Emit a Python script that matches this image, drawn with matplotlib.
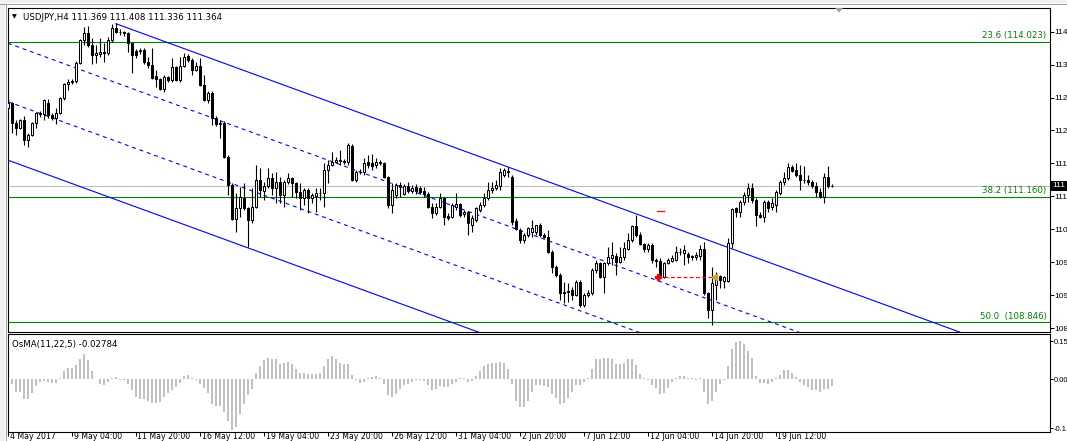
import numpy as np
import matplotlib
matplotlib.use("Agg")
import matplotlib.pyplot as plt
from matplotlib.patches import Rectangle, Polygon
from matplotlib.transforms import blended_transform_factory

# ---------------- data (USDJPY H4, bar 0 = 4 May 2017 12:00) ----------------
opens = [
    112.80, 112.90, 112.53, 112.44, 112.58, 112.21, 112.31, 112.53, 112.71, 112.70,
    112.90, 112.68, 112.62, 112.71, 112.99, 113.25, 113.29, 113.31, 113.64, 114.06,
    114.19, 113.97, 113.79, 113.80, 113.84, 113.82, 114.06, 114.28, 114.21, 114.20,
    114.19, 114.00, 113.85, 113.85, 113.87, 113.66, 113.60, 113.40, 113.34, 113.16,
    113.38, 113.32, 113.56, 113.32, 113.58, 113.77, 113.69, 113.51, 113.58, 113.23,
    112.95, 113.08, 112.62, 112.51, 112.53, 111.90, 111.38, 110.76, 110.95, 111.14,
    110.95, 110.74, 110.97, 111.47, 111.27, 111.36, 111.51, 111.33, 111.44, 111.20,
    111.44, 111.51, 111.42, 111.25, 111.14, 111.29, 111.14, 111.17, 111.23, 111.24,
    111.66, 111.75, 111.81, 111.84, 111.83, 111.81, 112.10, 111.47, 111.62, 111.62,
    111.81, 111.79, 111.75, 111.81, 111.79, 111.53, 111.01, 111.20, 111.38, 111.22,
    111.36, 111.27, 111.34, 111.32, 111.27, 111.22, 110.97, 110.86, 110.97, 111.14,
    110.81, 110.79, 110.98, 111.03, 110.84, 110.88, 110.64, 110.74, 110.92, 111.01,
    111.14, 111.29, 111.33, 111.36, 111.57, 111.64, 111.53, 110.72, 110.55, 110.37,
    110.46, 110.51, 110.51, 110.64, 110.46, 110.42, 110.14, 109.87, 109.72, 109.38,
    109.40, 109.44, 109.35, 109.59, 109.16, 109.35, 109.38, 109.81, 109.94, 109.68,
    109.94, 110.03, 110.07, 109.96, 110.05, 110.20, 110.37, 110.62, 110.46, 110.29,
    110.20, 110.27, 110.00, 109.97, 109.68, 109.94, 109.98, 110.00, 110.14, 110.12,
    110.10, 110.05, 110.05, 110.07, 110.20, 109.38, 109.07, 109.53, 109.70, 109.61,
    109.61, 110.31, 110.95, 110.88, 111.07, 111.20, 111.33, 111.10, 110.83, 110.79,
    111.07, 110.97, 111.01, 111.23, 111.44, 111.51, 111.71, 111.66, 111.57, 111.47,
    111.48, 111.44, 111.36, 111.25, 111.16, 111.53, 111.369,
]
highs = [
    113.03, 112.92, 112.58, 112.60, 112.66, 112.34, 112.55, 112.73, 112.75, 112.97,
    112.97, 112.71, 112.80, 113.01, 113.27, 113.34, 113.34, 113.67, 114.08, 114.30,
    114.32, 114.10, 113.97, 114.10, 114.01, 114.12, 114.36, 114.37, 114.27, 114.23,
    114.21, 114.01, 113.89, 113.91, 113.92, 113.75, 113.91, 113.51, 113.36, 113.41,
    113.40, 113.73, 113.58, 113.75, 113.82, 113.80, 113.73, 113.65, 113.73, 113.41,
    113.12, 113.12, 112.66, 112.58, 112.56, 111.94, 111.42, 111.23, 111.34, 111.42,
    110.97, 111.32, 111.75, 111.70, 111.44, 111.70, 111.60, 111.62, 111.53, 111.47,
    111.60, 111.53, 111.44, 111.42, 111.32, 111.32, 111.23, 111.32, 111.32, 111.79,
    111.84, 111.99, 111.90, 112.03, 111.86, 112.16, 112.14, 111.66, 111.68, 111.88,
    111.94, 111.95, 111.88, 111.84, 111.80, 111.55, 111.42, 111.42, 111.44, 111.40,
    111.44, 111.38, 111.40, 111.36, 111.34, 111.25, 111.05, 111.05, 111.23, 111.16,
    110.86, 111.05, 111.23, 111.05, 110.92, 110.90, 110.83, 110.97, 111.07, 111.23,
    111.44, 111.44, 111.47, 111.70, 111.70, 111.72, 111.57, 110.77, 110.58, 110.49,
    110.60, 110.74, 110.65, 110.68, 110.49, 110.55, 110.18, 109.90, 109.76, 109.59,
    109.57, 109.50, 109.63, 109.63, 109.38, 109.44, 109.85, 110.00, 109.96, 109.96,
    110.24, 110.33, 110.12, 110.24, 110.33, 110.49, 110.64, 110.83, 110.51, 110.31,
    110.31, 110.31, 110.03, 110.03, 109.96, 110.03, 110.09, 110.25, 110.22, 110.27,
    110.14, 110.09, 110.14, 110.27, 110.33, 109.40, 109.87, 109.77, 109.72, 109.70,
    110.40, 110.95, 110.97, 111.10, 111.25, 111.42, 111.42, 111.14, 110.88, 111.10,
    111.10, 111.14, 111.29, 111.47, 111.62, 111.79, 111.75, 111.79, 111.75, 111.73,
    111.57, 111.47, 111.44, 111.32, 111.60, 111.73, 111.408,
]
lows = [
    112.79, 112.34, 112.31, 112.42, 112.12, 112.08, 112.29, 112.44, 112.64, 112.58,
    112.62, 112.58, 112.51, 112.69, 112.96, 113.14, 113.24, 113.27, 113.62, 113.97,
    113.93, 113.62, 113.64, 113.75, 113.66, 113.79, 114.03, 114.19, 114.15, 114.14,
    113.84, 113.45, 113.72, 113.80, 113.62, 113.55, 113.34, 113.19, 113.14, 113.10,
    113.29, 113.29, 113.30, 113.29, 113.56, 113.66, 113.41, 113.49, 113.21, 112.94,
    112.90, 112.49, 112.47, 112.25, 111.88, 111.20, 110.73, 110.51, 110.79, 110.92,
    110.24, 110.68, 110.95, 111.16, 111.10, 111.33, 111.20, 111.05, 111.05, 110.97,
    111.40, 111.16, 111.14, 110.92, 111.01, 110.86, 111.05, 110.88, 111.10, 110.97,
    111.42, 111.73, 111.79, 111.75, 111.77, 111.75, 111.45, 111.44, 111.58, 111.57,
    111.70, 111.66, 111.70, 111.75, 111.52, 110.95, 110.86, 111.14, 111.16, 111.19,
    111.23, 111.23, 111.22, 111.21, 111.16, 110.95, 110.77, 110.83, 110.95, 110.64,
    110.74, 110.77, 110.92, 110.79, 110.79, 110.46, 110.51, 110.70, 110.88, 110.97,
    111.10, 111.23, 111.29, 111.29, 111.53, 111.53, 110.64, 110.55, 110.31, 110.31,
    110.42, 110.42, 110.46, 110.42, 110.40, 110.12, 109.76, 109.68, 109.26, 109.20,
    109.22, 109.26, 109.33, 109.12, 109.12, 109.31, 109.35, 109.76, 109.66, 109.38,
    109.90, 109.90, 109.72, 109.94, 110.00, 110.18, 110.33, 110.42, 110.27, 110.14,
    110.14, 109.94, 109.87, 109.66, 109.66, 109.92, 109.96, 109.98, 110.09, 109.90,
    109.94, 110.00, 110.00, 110.00, 109.35, 108.92, 108.80, 109.26, 109.48, 109.48,
    109.59, 110.22, 110.79, 110.79, 111.01, 111.07, 111.05, 110.62, 110.77, 110.70,
    110.88, 110.92, 110.88, 111.20, 111.38, 111.47, 111.62, 111.53, 111.29, 111.42,
    111.38, 111.33, 111.16, 111.14, 111.05, 111.33, 111.336,
]
closes = [
    112.90, 112.53, 112.44, 112.58, 112.21, 112.31, 112.53, 112.71, 112.70, 112.95,
    112.68, 112.62, 112.71, 112.99, 113.25, 113.29, 113.31, 113.64, 114.06, 114.19,
    113.97, 113.79, 113.82, 113.84, 113.82, 114.06, 114.28, 114.21, 114.20, 114.19,
    114.00, 113.79, 113.78, 113.87, 113.66, 113.60, 113.36, 113.34, 113.16, 113.38,
    113.32, 113.56, 113.32, 113.58, 113.75, 113.69, 113.51, 113.58, 113.23, 112.95,
    113.08, 112.62, 112.51, 112.53, 111.90, 111.38, 110.76, 110.95, 111.16, 110.95,
    110.74, 110.97, 111.47, 111.29, 111.36, 111.51, 111.33, 111.44, 111.20, 111.44,
    111.51, 111.42, 111.25, 111.14, 111.29, 111.14, 111.19, 111.23, 111.24, 111.66,
    111.75, 111.81, 111.84, 111.83, 111.81, 112.12, 111.47, 111.62, 111.63, 111.79,
    111.75, 111.73, 111.81, 111.79, 111.53, 111.01, 111.29, 111.38, 111.34, 111.36,
    111.27, 111.32, 111.27, 111.25, 111.22, 110.97, 110.86, 110.97, 111.14, 110.79,
    110.77, 111.01, 111.04, 110.83, 110.88, 110.68, 110.77, 110.95, 111.01, 111.14,
    111.29, 111.33, 111.38, 111.62, 111.66, 111.62, 110.70, 110.57, 110.37, 110.46,
    110.58, 110.58, 110.64, 110.46, 110.43, 110.14, 109.87, 109.72, 109.38, 109.40,
    109.42, 109.35, 109.59, 109.16, 109.35, 109.38, 109.81, 109.94, 109.68, 109.94,
    110.05, 110.09, 109.96, 110.05, 110.22, 110.37, 110.62, 110.46, 110.29, 110.20,
    110.27, 110.00, 109.97, 109.68, 109.94, 110.00, 110.03, 110.14, 110.15, 110.18,
    110.05, 110.07, 110.09, 110.20, 109.38, 109.07, 109.57, 109.68, 109.63, 109.68,
    110.31, 110.94, 110.88, 111.07, 111.20, 111.33, 111.10, 110.83, 110.79, 111.07,
    110.95, 111.05, 111.25, 111.44, 111.51, 111.71, 111.64, 111.57, 111.47, 111.48,
    111.44, 111.36, 111.25, 111.16, 111.53, 111.36, 111.364,
]
osma = [
    0.020, -0.020, -0.050, -0.050, -0.080, -0.080, -0.057, -0.027, -0.012, -0.007,
    -0.010, -0.016, -0.016, 0.004, 0.030, 0.045, 0.045, 0.056, 0.079, 0.097,
    0.075, 0.030, 0.001, -0.020, -0.022, -0.012, 0.005, 0.007, -0.003, -0.005,
    -0.020, -0.045, -0.070, -0.078, -0.080, -0.085, -0.095, -0.093, -0.090, -0.070,
    -0.055, -0.045, -0.030, -0.015, 0.010, 0.016, 0.005, -0.004, -0.020, -0.035,
    -0.055, -0.100, -0.105, -0.105, -0.130, -0.165, -0.200, -0.190, -0.140, -0.100,
    -0.065, -0.040, 0.025, 0.050, 0.075, 0.085, 0.080, 0.080, 0.060, 0.065,
    0.068, 0.060, 0.040, 0.025, 0.025, 0.018, 0.018, 0.020, 0.025, 0.050,
    0.080, 0.090, 0.080, 0.065, 0.058, 0.060, 0.015, -0.005, -0.015, -0.010,
    0.005, 0.008, 0.010, 0.005, -0.020, -0.065, -0.070, -0.060, -0.040, -0.025,
    -0.020, -0.012, -0.005, -0.004, -0.008, -0.025, -0.045, -0.040, -0.028, -0.030,
    -0.030, -0.020, -0.010, 0.004, 0.004, -0.010, -0.007, 0.010, 0.030, 0.050,
    0.060, 0.065, 0.065, 0.068, 0.065, 0.040, -0.020, -0.085, -0.110, -0.110,
    -0.085, -0.050, -0.023, -0.023, -0.026, -0.030, -0.060, -0.077, -0.097, -0.095,
    -0.077, -0.050, -0.023, -0.023, -0.012, 0.005, 0.040, 0.080, 0.080, 0.085,
    0.085, 0.080, 0.060, 0.058, 0.065, 0.080, 0.080, 0.055, 0.020, 0.005,
    -0.004, -0.025, -0.035, -0.060, -0.055, -0.035, -0.010, 0.003, 0.010, 0.010,
    0.005, 0.002, -0.002, 0.002, -0.050, -0.100, -0.085, -0.050, -0.020, -0.003,
    0.050, 0.120, 0.145, 0.150, 0.140, 0.110, 0.085, 0.010, -0.015, -0.015,
    -0.020, -0.010, 0.005, 0.015, 0.035, 0.035, 0.025, 0.008, -0.010, -0.025,
    -0.030, -0.045, -0.045, -0.050, -0.040, -0.040, -0.02784,
]

symbol = "USDJPY,H4"
osma_name = "OsMA(11,22,5)"
time_tick_bars = [0, 16, 32, 48, 64, 80, 96, 112, 128, 144, 160, 176, 192]
time_tick_labels = ["4 May 2017", "9 May 04:00", "11 May 20:00", "16 May 12:00",
                    "19 May 04:00", "23 May 20:00", "26 May 12:00", "31 May 04:00",
                    "2 Jun 20:00", "7 Jun 12:00", "12 Jun 04:00", "14 Jun 20:00",
                    "19 Jun 12:00"]
# price scale ticks; only the integer part is visible at the window edge
price_ticks = [114.210, 113.605, 112.995, 112.390, 111.780, 111.170,
               110.565, 109.955, 109.345, 108.740]
osma_ticks = [0.1502, 0.0, -0.1937]
osma_tick_labels = ["0.15", "0.00", "-0.1"]

fib_levels = [114.023, 111.160, 108.846]
fib_labels = ["23.6 (114.023)", "38.2 (111.160)", "50.0  (108.846)"]

# channel objects: start bar, price at start bar, common slope per bar
channel_slope = -0.0270
channel_start_bars = [27, 0, 0, 0]
channel_start_prices = [114.36, 114.00, 112.92, 111.84]
channel_styles = ["solid", "dashed", "dashed", "solid"]

trade_bars = [162.4, 176.6]
trade_price = 109.69
stop_mark_bars = [162.3, 164.0]
stop_mark_price = 110.90

# ---------------- layout ----------------
W, H = 1067, 441
fig = plt.figure(figsize=(W / 100, H / 100), dpi=100)
fig.patch.set_facecolor("white")
plt.rcParams["font.family"] = ["DejaVu Sans"]
FS = 6.2
AXFONT = "Liberation Sans"


def rect(x0, y0, x1, y1):
    return [x0 / W, 1 - y1 / H, (x1 - x0) / W, (y1 - y0) / H]


ax = fig.add_axes(rect(7.5, 7.5, 1049.5, 331.5))
ax2 = fig.add_axes(rect(7.5, 334.0, 1049.5, 431.5))

n = len(closes)
idx = np.arange(n)
o = np.array(opens); h = np.array(highs); l = np.array(lows); c = np.array(closes)

xl = (-0.125, 260.375)
for a in (ax, ax2):
    a.set_xlim(*xl)
    for s in a.spines.values():
        s.set_linewidth(0.8)
        s.set_color("black")

ax.set_ylim(108.676, 114.660)
ax2.set_ylim(-0.2075, 0.1779)

# horizontal levels
ax.axhline(closes[-1], color="#c0c0c0", lw=0.8, zorder=1)
for lev, lab in zip(fib_levels, fib_labels):
    ax.axhline(lev, color="#008000", lw=0.8, zorder=1)
    ax.annotate(lab, xy=(1.0, lev), xycoords=("axes fraction", "data"),
                xytext=(-2.2, 1.2), textcoords="offset points",
                ha="right", va="bottom", color="#008000", fontsize=FS)

# channel lines
end_bar = xl[1]
for b0, p0, st in zip(channel_start_bars, channel_start_prices, channel_styles):
    ls = "-" if st == "solid" else (0, (3.5, 3.5))
    ax.plot([b0, end_bar], [p0, p0 + channel_slope * (end_bar - b0)],
            color="#0000ff", lw=0.8, ls=ls, zorder=2)

# candles
ax.vlines(idx, l, h, color="black", lw=0.8, zorder=3)
bottoms = np.minimum(o, c)
heights = np.maximum(np.abs(c - o), 0.004)
fills = np.where(c >= o, "white", "black")
ax.bar(idx, heights, bottom=bottoms, width=0.5, color=fills,
       edgecolor="black", linewidth=0.75, zorder=4)

# trade history
ax.plot(trade_bars, [trade_price, trade_price], color="red", lw=0.9,
        ls=(0, (3, 2)), zorder=5)
ax.plot([trade_bars[0]], [trade_price], marker="P", color="red", ms=4.5, zorder=6)
ax.plot([trade_bars[1]], [trade_price], marker="<", color="#d4a020", ms=4, zorder=6)
ax.plot(stop_mark_bars, [stop_mark_price] * 2, color="red", lw=0.9, zorder=5)

ax.set_xticks([])
ax.yaxis.tick_right()
ax.set_yticks(price_ticks)
ax.set_yticklabels([str(int(v)) for v in price_ticks], fontsize=6.0,
                   fontfamily=AXFONT)
ax.tick_params(axis="y", direction="out", length=3, width=0.75, pad=0.6,
               colors="black")

# current price box (only its left part fits inside the window)
tr = blended_transform_factory(ax.transAxes, ax.transData)
ax.add_patch(Rectangle((1.0 + 1.0 / 1042, closes[-1] - 0.1), 20 / 1042, 0.2,
                       transform=tr, fc="black", ec="none", clip_on=False,
                       zorder=9))
ax.text(1.0 + 3.2 / 1042, closes[-1], str(int(closes[-1])), transform=tr,
        ha="left", va="center", color="white", fontsize=6.0, fontfamily=AXFONT,
        zorder=10, clip_on=False)

# OsMA histogram
ax2.bar(idx, osma, width=0.6, color="#c0c0c0", zorder=2)
ax2.yaxis.tick_right()
ax2.set_yticks(osma_ticks)
ax2.set_yticklabels(osma_tick_labels, fontsize=5.5, fontfamily=AXFONT)
ax2.tick_params(axis="y", direction="out", length=2.5, width=0.75, pad=0.6)
ax2.set_xticks(time_tick_bars)
ax2.set_xticklabels([""] * len(time_tick_bars))
ax2.tick_params(axis="x", direction="out", length=3, width=0.75)
ax2.text(4.5 / 1042, 0.935, f"{osma_name} {osma[-1]:.5f}",
         transform=ax2.transAxes, ha="left", va="top", fontsize=FS)

for b, lab in zip(time_tick_bars, time_tick_labels):
    xpix = 8 + 4 * b + 1.5
    fig.text(xpix / W, 1 - 432.0 / H, lab, ha="left", va="top", fontsize=5.6)

# header text
fig.text(23 / W, 1 - 19.5 / H,
         f"{symbol} {opens[-1]:.3f} {highs[-1]:.3f} {lows[-1]:.3f} {closes[-1]:.3f}",
         ha="left", va="baseline", fontsize=FS)
fig.text(11.5 / W, 1 - 18.5 / H, "\u25bc", ha="left", va="baseline", fontsize=4.5)

# window frame decorations
fig.patches.append(Rectangle((0, 1 - 3 / H), 1, 3 / H, transform=fig.transFigure,
                             fc="#f0f0f0", ec="none", zorder=0))
fig.patches.append(Rectangle((0, 0), 5 / W, 1, transform=fig.transFigure,
                             fc="#f0f0f0", ec="none", zorder=0))
fig.lines.append(plt.Line2D([0, 1], [1 - 3.5 / H] * 2, transform=fig.transFigure,
                            color="#a0a0a0", lw=0.75))
fig.lines.append(plt.Line2D([5.5 / W] * 2, [0, 1 - 3.5 / H], transform=fig.transFigure,
                            color="#a0a0a0", lw=0.75))
tri = Polygon([[835 / W, 1 - 8 / H], [843 / W, 1 - 8 / H], [839 / W, 1 - 12.5 / H]],
              closed=True, transform=fig.transFigure, fc="#a0a0a0", ec="none")
fig.patches.append(tri)

fig.savefig("out.png", dpi=100)
